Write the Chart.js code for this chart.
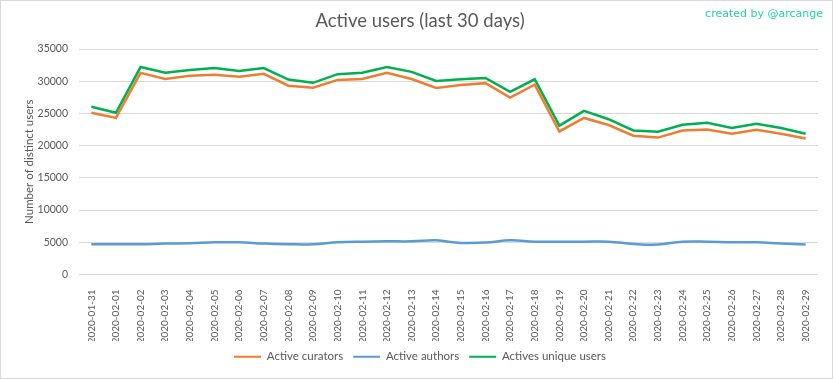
<!DOCTYPE html>
<html>
<head>
<meta charset="utf-8">
<script src="https://cdn.jsdelivr.net/npm/chart.js@4.4.0/dist/chart.umd.min.js"></script>
<style>
  html, body { margin: 0; padding: 0; background: #fff; }
  #wrap { position: relative; width: 833px; height: 379px; box-sizing: border-box; border: 1px solid #d9d9d9; }
  #credit { position: absolute; right: 9px; top: 6px; font: 11px "DejaVu Sans", sans-serif; color: #1fd6a0; }
</style>
</head>
<body>
<div id="wrap">
  <canvas id="chart" width="831" height="377"></canvas>
  <div id="credit">created by @arcange</div>
</div>
<script>
const days = [
  "2020-01-31", "2020-02-01", "2020-02-02", "2020-02-03", "2020-02-04", "2020-02-05",
  "2020-02-06", "2020-02-07", "2020-02-08", "2020-02-09", "2020-02-10", "2020-02-11",
  "2020-02-12", "2020-02-13", "2020-02-14", "2020-02-15", "2020-02-16", "2020-02-17",
  "2020-02-18", "2020-02-19", "2020-02-20", "2020-02-21", "2020-02-22", "2020-02-23",
  "2020-02-24", "2020-02-25", "2020-02-26", "2020-02-27", "2020-02-28", "2020-02-29"
];

const curators = [
  25100, 24300, 31300, 30350, 30850, 31000, 30700, 31150, 29300, 29000,
  30200, 30350, 31300, 30350, 28950, 29400, 29700, 27450, 29450, 22200,
  24300, 23200, 21550, 21250, 22350, 22500, 21850, 22450, 21850, 21100
];

const authors = [
  4700, 4700, 4700, 4800, 4850, 5000, 5000, 4800, 4700, 4700,
  5000, 5100, 5150, 5150, 5300, 4900, 4950, 5300, 5100, 5100,
  5100, 5100, 4750, 4650, 5100, 5100, 5000, 5000, 4800, 4650
];

const uniqueUsers = [
  26050, 25100, 32200, 31300, 31750, 32050, 31600, 32050, 30250, 29750,
  31100, 31300, 32200, 31450, 30050, 30300, 30500, 28350, 30300, 23100,
  25400, 24100, 22350, 22150, 23250, 23550, 22750, 23400, 22750, 21850
];

const yTicks = [0, 5000, 10000, 15000, 20000, 25000, 30000, 35000];

const grey = "#595959";
Chart.defaults.font.family = "Lato, 'Open Sans', sans-serif";
Chart.defaults.color = grey;

const ctx = document.getElementById("chart").getContext("2d");
new Chart(ctx, {
  type: "line",
  data: {
    labels: days,
    datasets: [
      { label: "Active curators", data: curators, borderColor: "#ed7d31", backgroundColor: "#ed7d31",
        borderWidth: 2.5, pointRadius: 0, tension: 0 },
      { label: "Active authors", data: authors, borderColor: "#5b9bd5", backgroundColor: "#5b9bd5",
        borderWidth: 2.5, pointRadius: 0, tension: 0.4 },
      { label: "Actives unique users", data: uniqueUsers, borderColor: "#00b050", backgroundColor: "#00b050",
        borderWidth: 2.5, pointRadius: 0, tension: 0 }
    ]
  },
  options: {
    responsive: false,
    animation: false,
    layout: { padding: { left: 21, right: 14, top: 0, bottom: 5.5 } },
    plugins: {
      title: {
        display: true,
        text: "Active users (last 30 days)",
        color: grey,
        font: { size: 18.5, weight: "normal" },
        padding: { top: 8.9, bottom: 16.9 }
      },
      legend: {
        position: "bottom",
        labels: {
          boxWidth: 27, boxHeight: 2, padding: 10, font: { size: 11.5 }, color: grey,
          generateLabels(chart) {
            return Chart.defaults.plugins.legend.labels.generateLabels(chart)
              .map(l => Object.assign(l, { lineWidth: 0 }));
          }
        }
      },
      tooltip: { enabled: false }
    },
    scales: {
      x: {
        offset: true,
        grid: { display: false },
        border: { display: false },
        ticks: { maxRotation: 90, minRotation: 90, padding: 7, autoSkip: false, font: { size: 10 } },
        afterFit(scale) { scale.height = 66.5; }
      },
      y: {
        min: 0, max: 35000,
        afterBuildTicks(scale) { scale.ticks = yTicks.map(v => ({ value: v })); },
        grid: { color: "#d9d9d9", drawTicks: false },
        border: { display: false },
        ticks: { padding: 11, font: { size: 10.5 }, callback: v => String(v) },
        title: { display: true, text: "Number of distinct users", color: grey, font: { size: 11.5 }, padding: 0 },
        afterFit(scale) { scale.width = 57; }
      }
    }
  }
});
</script>
</body>
</html>
